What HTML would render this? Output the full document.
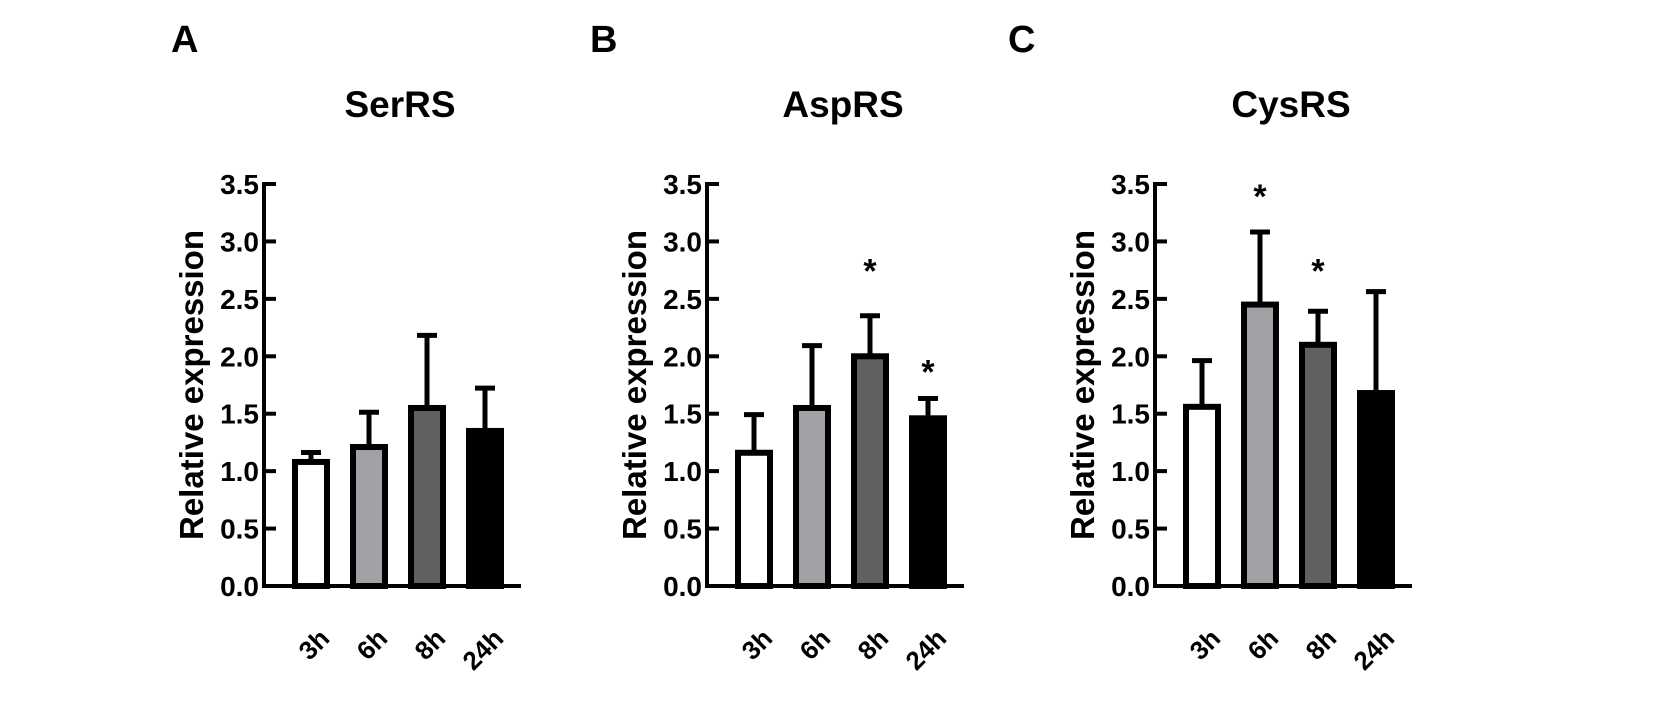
<!DOCTYPE html>
<html><head><meta charset="utf-8"><style>
body{margin:0;background:#fff;}
svg{display:block;font-family:"Liberation Sans",Arial,sans-serif;font-weight:bold;}
</style></head><body>
<svg id="fig" width="1654" height="709" viewBox="0 0 1654 709" xmlns="http://www.w3.org/2000/svg"></svg>
<script>
const categories = ["3h","6h","8h","24h"];
const panelLetters = ["A","B","C"];
const panelTitles = ["SerRS","AspRS","CysRS"];
const serValues = [1.08,1.21,1.55,1.35];
const serErrors = [1.18,1.53,2.20,1.74];
const aspValues = [1.16,1.55,2.00,1.46];
const aspErrors = [1.51,2.11,2.37,1.65];
const cysValues = [1.56,2.45,2.10,1.68];
const cysErrors = [1.98,3.10,2.41,2.58];
const aspStars = [null,null,2.85,1.97];
const cysStars = [null,3.50,2.85,null];
const serStars = [null,null,null,null];
const yTicks = [0,0.5,1,1.5,2,2.5,3,3.5];
const yTickLabels = ["0.0","0.5","1.0","1.5","2.0","2.5","3.0","3.5"];
const fills = ["#ffffff","#a2a2a6","#606060","#000000"];

const NS="http://www.w3.org/2000/svg";
const svg=document.getElementById('fig');
function mk(tag,attrs,parent){const e=document.createElementNS(NS,tag);for(const k in attrs)e.setAttribute(k,attrs[k]);(parent||svg).appendChild(e);return e;}

const panels=[
 {axisX:264,letterX:171,values:serValues,errors:serErrors,stars:serStars},
 {axisX:707,letterX:590,values:aspValues,errors:aspErrors,stars:aspStars},
 {axisX:1155,letterX:1008,values:cysValues,errors:cysErrors,stars:cysStars}
];
const y0=586,y1=184,vmax=3.5;
function yScale(v){return y0-(v/vmax)*(y0-y1);}

panels.forEach((p,pi)=>{
  const g=mk('g',{});
  
  
  const xS=i=>p.axisX+47+i*58;
  const L=mk('text',{x:p.letterX,y:52,'font-size':38},g);L.textContent=panelLetters[pi];
  
  const T=mk('text',{x:p.axisX+136,y:117,'font-size':37,'text-anchor':'middle'},g);T.textContent=panelTitles[pi];
  
  const yt=mk('text',{x:0,y:0,'font-size':33,'text-anchor':'middle',transform:`translate(${p.axisX-61},${(y0+y1)/2}) rotate(-90)`},g);
  yt.textContent='Relative expression';
  
  categories.forEach((c,i)=>{
    const cx=xS(i),top=yScale(p.values[i]),et=yScale(p.errors[i]);
    const eb=mk('line',{x1:cx,x2:cx,y1:top,y2:et,stroke:'#000','stroke-width':5},g);
    
    const cap=mk('line',{x1:cx-10,x2:cx+10,y1:et+2,y2:et+2,stroke:'#000','stroke-width':5},g);
    
    const r=mk('rect',{x:cx-16,y:top,width:32,height:y0-top,fill:fills[i],stroke:'#000','stroke-width':6},g);
    
    if(p.stars[i]!=null){
      const s=mk('text',{x:cx,y:yScale(p.stars[i])+24,'font-size':34,'text-anchor':'middle'},g);s.textContent='*';
      
    }
    const xl=mk('text',{x:0,y:0,'font-size':26,'text-anchor':'end',transform:`translate(${cx+20},${640}) rotate(-45)`},g);
    xl.textContent=c;
    
  });
  const ya=mk('line',{x1:p.axisX,x2:p.axisX,y1:y1-2,y2:y0+2,stroke:'#000','stroke-width':4},g);
  
  const xa=mk('line',{x1:p.axisX-2,x2:p.axisX+257,y1:y0,y2:y0,stroke:'#000','stroke-width':4},g);
  
  yTicks.forEach((t,k)=>{
    const ty=yScale(t);
    const tk=mk('line',{x1:p.axisX,x2:p.axisX+12,y1:ty,y2:ty,stroke:'#000','stroke-width':4},g);
    
    const tl=mk('text',{x:p.axisX-5,y:ty+10,'font-size':28,'text-anchor':'end'},g);tl.textContent=yTickLabels[k];
    
  });
});
</script>
</body></html>
